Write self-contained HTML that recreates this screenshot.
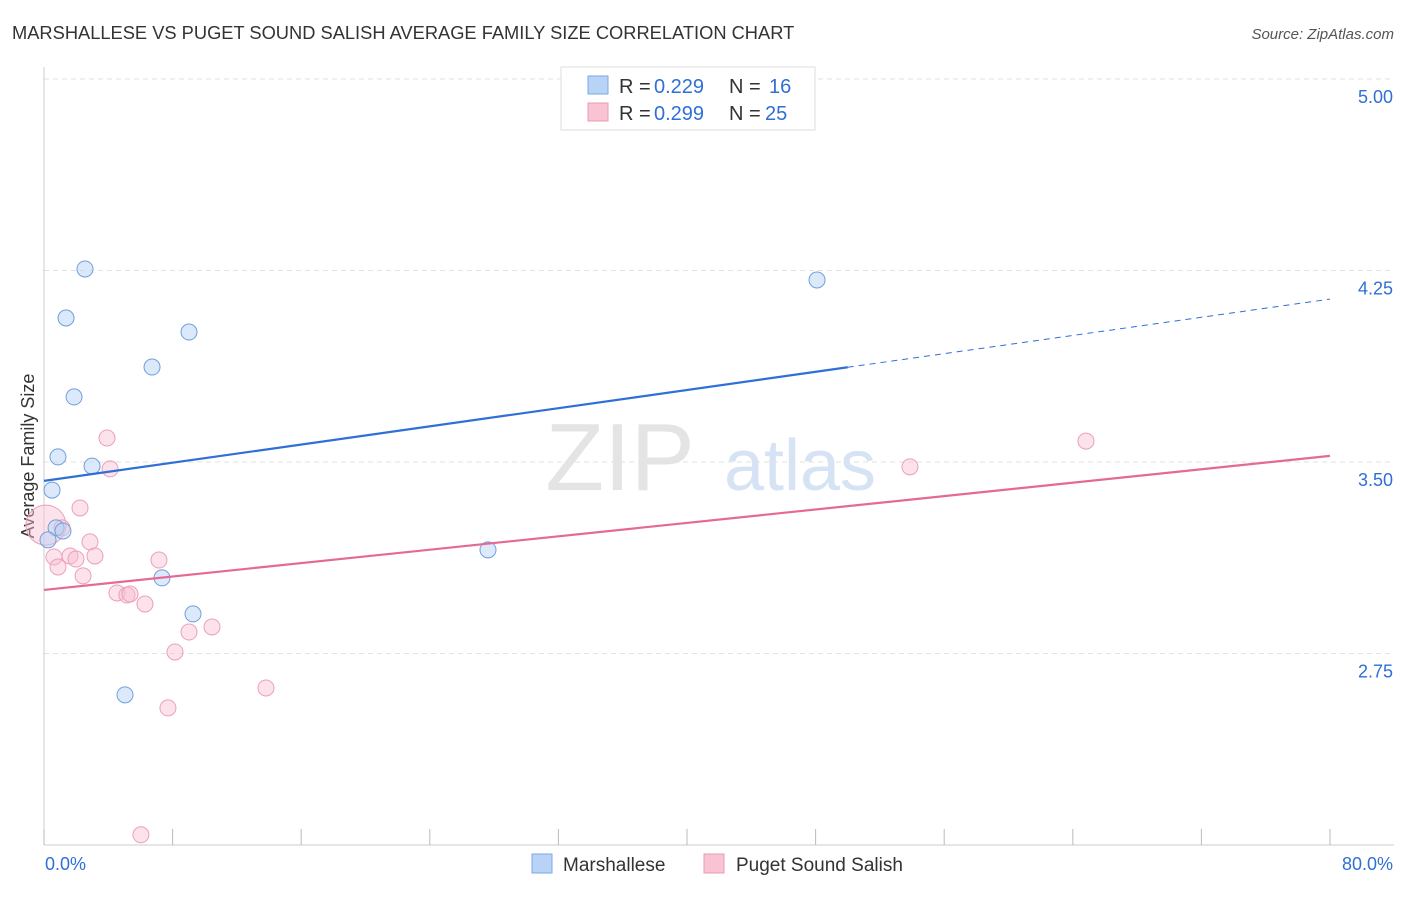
<!DOCTYPE html>
<html><head><meta charset="utf-8"><style>
body{margin:0;background:#fff;font-family:"Liberation Sans",sans-serif;}
svg text{font-family:"Liberation Sans",sans-serif;}
</style></head><body>
<svg id="c" width="1406" height="892">
<text x="12" y="39" font-size="18.3" fill="#333">MARSHALLESE VS PUGET SOUND SALISH AVERAGE FAMILY SIZE CORRELATION CHART</text>
<text x="1394" y="39" font-size="15" fill="#555" font-style="italic" text-anchor="end">Source: ZipAtlas.com</text>
<text x="620" y="490" font-size="96" fill="#e4e4e4" font-family="Liberation Serif" text-anchor="middle">ZIP</text>
<text x="800" y="490" font-size="72" fill="#d6e3f5" text-anchor="middle">atlas</text>
<text transform="translate(34,456) rotate(-90)" font-size="18" fill="#333" text-anchor="middle">Average Family Size</text>
<g id="grid"></g><g id="marks"></g>
<g>
<rect x="561" y="67" width="254" height="63" fill="#fff" stroke="#ddd"/>
<rect x="588" y="76" width="20" height="18" fill="#b8d3f5" stroke="#7aaae6"/>
<rect x="588" y="103" width="20" height="18" fill="#f8c4d4" stroke="#eb9ab4"/>
<text x="619" y="93" font-size="20" fill="#333">R =</text>
<text x="654" y="93" font-size="20" fill="#2f6fd6">0.229</text>
<text x="729" y="93" font-size="20" fill="#333">N =</text>
<text x="769" y="93" font-size="20" fill="#2f6fd6">16</text>
<text x="619" y="120" font-size="20" fill="#333">R =</text>
<text x="654" y="120" font-size="20" fill="#2f6fd6">0.299</text>
<text x="729" y="120" font-size="20" fill="#333">N =</text>
<text x="765" y="120" font-size="20" fill="#2f6fd6">25</text>
</g>
<g>
<rect x="532" y="854" width="20" height="19" fill="#b8d3f5" stroke="#7aaae6"/>
<text x="563" y="871" font-size="19" fill="#333">Marshallese</text>
<rect x="704" y="854" width="20" height="19" fill="#f8c4d4" stroke="#eb9ab4"/>
<text x="736" y="871" font-size="19" fill="#333">Puget Sound Salish</text>
</g>
</svg>
<script>
const yTicks=[5.00,4.25,3.50,2.75];
const yTickLabels=["5.00","4.25","3.50","2.75"];
const xTickLabels=["0.0%","80.0%"];
const blueX=[2.55,1.37,9.02,6.72,1.87,0.87,2.99,0.50,0.75,1.18,0.25,27.62,7.34,9.27,5.04,48.09];
const blueY=[4.256,4.064,4.009,3.872,3.755,3.520,3.484,3.39,3.242,3.230,3.195,3.156,3.046,2.905,2.588,4.213];
const pinkX=[0.12,3.92,4.11,2.24,1.12,2.86,0.62,1.62,3.17,0.87,1.99,2.43,7.15,4.54,5.16,5.35,6.28,9.02,10.45,8.15,13.81,7.71,6.03,53.87,64.82];
const pinkY=[3.253,3.594,3.473,3.32,3.242,3.187,3.128,3.132,3.132,3.089,3.12,3.054,3.116,2.987,2.979,2.983,2.944,2.834,2.854,2.756,2.615,2.537,2.04,3.481,3.582];
const blueTrend=[3.426,4.138];
const pinkTrend=[2.999,3.524];
const X=v=>44+v/80*1286, Y=v=>79+(5-v)/0.75*191.5;
const NS="http://www.w3.org/2000/svg";
function mk(t,a,p){const e=document.createElementNS(NS,t);for(const k in a)e.setAttribute(k,a[k]);p.appendChild(e);return e;}
const g=document.getElementById('grid'),m=document.getElementById('marks');
yTicks.forEach((t,i)=>{const l=mk('line',{x1:44,x2:1394,y1:Y(t),y2:Y(t),stroke:'#e2e2e2','stroke-dasharray':'5,4'},g);


const tx=mk('text',{x:1393,y:Y(t)+24,'font-size':18,fill:'#2f6fd6','text-anchor':'end'},g);tx.textContent=yTickLabels[i];

});
mk('line',{x1:44,x2:44,y1:67,y2:845,stroke:'#ccc'},g);
mk('line',{x1:44,x2:1394,y1:845,y2:845,stroke:'#ccc'},g);
for(let i=0;i<=10;i++){const t=mk('line',{x1:X(i*8),x2:X(i*8),y1:829,y2:845,stroke:'#bbb'},g);

}
const xl0=mk('text',{x:45,y:870,'font-size':18,fill:'#2f6fd6'},g);xl0.textContent=xTickLabels[0];


const xl1=mk('text',{x:1393,y:870,'font-size':18,fill:'#2f6fd6','text-anchor':'end'},g);xl1.textContent=xTickLabels[1];


pinkX.forEach((x,i)=>{const c=mk('circle',{cx:X(x),cy:Y(pinkY[i]),r:i==0?20:8,fill:'rgba(248,190,208,0.45)',stroke:'#eba0b9','stroke-width':1},m);

});
blueX.forEach((x,i)=>{const c=mk('circle',{cx:X(x),cy:Y(blueY[i]),r:8,fill:'rgba(184,211,245,0.5)',stroke:'#6f9fdc','stroke-width':1},m);

});
const bf=v=>blueTrend[0]+(blueTrend[1]-blueTrend[0])*v/80;
const b1=mk('line',{x1:X(0),y1:Y(bf(0)),x2:X(50),y2:Y(bf(50)),stroke:'#2f6fd6','stroke-width':2.2},m);


const b2=mk('line',{x1:X(50),y1:Y(bf(50)),x2:X(80),y2:Y(bf(80)),stroke:'#2f6fd6','stroke-width':1,'stroke-dasharray':'6,5'},m);


const p1=mk('line',{x1:X(0),y1:Y(pinkTrend[0]),x2:X(80),y2:Y(pinkTrend[1]),stroke:'#e46a94','stroke-width':2.2},m);


</script>
</body></html>
